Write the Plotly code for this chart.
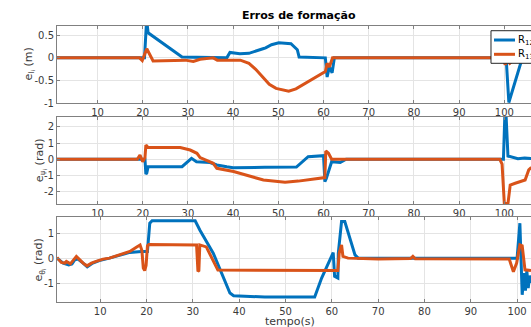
import plotly.graph_objects as go
from plotly.subplots import make_subplots

BLUE = "#0072BD"
ORANGE = "#D95319"

# ---- distance error e_l (m) ----
t12_l = [1, 20.4, 20.8, 21.0, 21.2, 24.6, 28.7, 38.6, 39.3, 41.5, 43.5, 46.6, 47.2, 48.5,
         50.1, 52.8, 54.2, 54.6, 60.4, 60.8, 61.3, 61.9, 62.4, 100.4, 101.0, 103.8, 106]
v12_l = [0, 0, 0.72, 0.72, 0.55, 0.31, 0.02, 0.0, 0.12, 0.09, 0.1, 0.2, 0.22, 0.29,
         0.33, 0.31, 0.18, 0.02, 0.0, -0.42, -0.2, -0.33, 0.0, 0.0, -0.98, -0.06, 0.5]
t13_l = [1, 19.3, 19.9, 20.9, 22.3, 29.4, 31.2, 32.7, 35.6, 36.5, 41.6, 43.5, 45.0, 46.8,
         48.0, 49.5, 52.3, 53.9, 56.0, 58.4, 60.4, 60.8, 61.3, 62.0, 99.6, 100.2, 100.6,
         101.2, 102.0, 106]
v13_l = [0, 0, -0.06, 0.2, -0.07, -0.05, -0.08, -0.03, 0.0, -0.05, -0.05, -0.12, -0.25, -0.45,
         -0.58, -0.67, -0.73, -0.68, -0.56, -0.42, -0.3, -0.12, -0.2, 0.0, 0.0, -0.15, -0.05,
         -0.12, -0.05, -0.05]

# ---- heading error e_psi (rad) ----
t12_p = [1, 19.8, 20.5, 20.7, 20.9, 21.2, 28.7, 30.8, 31.9, 34.9, 36.4, 38.6, 40.0, 47.0,
         54.0, 56.6, 60.0, 60.3, 60.6, 61.8, 63.7, 65.0, 99.8, 100.1, 100.4, 100.8, 102.0,
         103.0, 104.5, 106]
v12_p = [0, 0, 0, -0.92, -0.85, -0.46, -0.46, 0.06, -0.15, -0.2, -0.35, -0.46, -0.52, -0.5,
         -0.48, 0.16, 0.22, -1.38, -1.2, -0.15, -0.2, 0.0, 0.0, 2.62, 2.62, 0.2, 0.1,
         0.03, 0.07, 0.05]
t13_p = [1, 18.8, 19.4, 20.0, 20.5, 20.7, 21.2, 28.3, 30.5, 32.0, 32.7, 34.2, 35.6, 36.4,
         40.1, 46.7, 51.5, 54.4, 60.0, 60.3, 60.5, 61.1, 61.8, 99.0, 99.5, 100.0, 100.8,
         101.3, 102.4, 104.6, 105.4, 106]
v13_p = [0, 0, 0.26, -0.15, 0.1, 0.88, 0.72, 0.72, 0.57, 0.37, 0.1, -0.08, -0.25, -0.56,
         -0.76, -1.28, -1.42, -1.35, -1.13, -1.13, 0.51, 0.37, 0.0, 0.0, -0.3, -2.74, -2.74,
         -1.59, -1.48, -1.28, -0.66, -0.5]

# ---- pitch error e_theta (rad) ----
t12_t = [0.67, 2.0, 3.2, 3.9, 4.5, 5.2, 6.3, 7.2, 8.4, 9.8, 12.0, 14.2, 16.4, 18.9, 20.2,
         20.7, 21.2, 30.5, 31.5, 34.4, 38.0, 38.8, 45.5, 56.3, 57.8, 60.3, 60.6, 61.3, 61.4,
         62.1, 62.8, 65.0, 65.7, 99.4, 100.0, 100.6, 101.1, 101.5, 101.8, 102.1, 102.4,
         102.7, 103.0]
v12_t = [0, -0.2, -0.27, -0.23, -0.07, -0.04, -0.2, -0.35, -0.2, -0.1, 0.0, 0.13, 0.23, 0.27,
         0.27, 1.4, 1.5, 1.5, 1.13, 0.2, -1.4, -1.51, -1.56, -1.56, -0.8, 0.22, -0.73, -0.8,
         0.2, 1.47, 1.47, 0.13, 0.0, 0.0, 0.0, 1.4, -1.47, -0.6, -1.3, -0.5, -1.2, -0.7, -1.0]
t13_t = [0.67, 1.6, 2.35, 2.7, 3.56, 4.3, 4.85, 5.6, 6.3, 7.15, 8.1, 9.1, 10.6, 12.0, 13.5,
         14.9, 16.4, 17.8, 18.6, 19.0, 19.3, 19.6, 19.9, 20.2, 20.5, 30.8, 31.1, 31.3, 31.5,
         32.9, 35.4, 61.3, 61.6, 62.1, 62.4, 63.5, 70.0, 77.0, 77.5, 78.0, 98.3, 99.2, 99.9,
         100.6, 101.1, 101.7, 103.0]
v13_t = [0.03, -0.17, -0.2, -0.13, -0.23, -0.07, 0.07, -0.07, -0.2, -0.31, -0.2, -0.13, -0.04,
         0.0, 0.09, 0.17, 0.27, 0.44, 0.53, 0.3, -0.4, -0.5, -0.3, 0.5, 0.55, 0.53, -0.53,
         -0.5, 0.53, 0.45, -0.48, -0.5, 0.2, 0.53, 0.07, 0.0, -0.04, -0.02, 0.07, -0.03, -0.04,
         -0.55, -0.2, 0.53, 0.49, -0.47, -0.5]

x_ticks = [10, 20, 30, 40, 50, 60, 70, 80, 90, 100]
y1_ticks = [-1, -0.5, 0, 0.5]
y1_text = ["-1", "-0.5", "0", "0.5"]
y2_ticks = [-2, -1, 0, 1, 2]
y2_text = ["-2", "-1", "0", "1", "2"]
y3_ticks = [-1, 0, 1]
y3_text = ["-1", "0", "1"]

legend_names = ["R<sub>12</sub>", "R<sub>13</sub>"]
legend_colors = [BLUE, ORANGE]

series = [
    (1, t12_l, v12_l, t13_l, v13_l),
    (2, t12_p, v12_p, t13_p, v13_p),
    (3, t12_t, v12_t, t13_t, v13_t),
]

fig = make_subplots(rows=3, cols=1)
for row, ta, va, tb, vb in series:
    fig.add_trace(go.Scatter(x=ta, y=va, mode="lines", name=legend_names[0],
                             line=dict(color=BLUE, width=3), showlegend=False),
                  row=row, col=1)
    fig.add_trace(go.Scatter(x=tb, y=vb, mode="lines", name=legend_names[1],
                             line=dict(color=ORANGE, width=3), showlegend=False),
                  row=row, col=1)

TXT = "#3a3a3a"
AX = "#808080"
GRID = "#e4e4e4"
FONT = "DejaVu Sans"

xcommon = dict(tickvals=x_ticks, ticks="inside", ticklen=3, tickcolor=AX,
               showline=True, linecolor=AX, linewidth=1, mirror="ticks",
               showgrid=True, gridcolor=GRID, zeroline=False,
               tickfont=dict(family=FONT, size=10, color=TXT))
ycommon = dict(ticks="inside", ticklen=3, tickcolor=AX,
               showline=True, linecolor=AX, linewidth=1, mirror=False,
               showgrid=True, gridcolor=GRID, zeroline=False,
               tickfont=dict(family=FONT, size=10, color=TXT))

fig.update_layout(
    xaxis=dict(xcommon, range=[1.04, 105.9], domain=[0, 1]),
    xaxis2=dict(xcommon, range=[1.04, 105.9], domain=[0, 1]),
    xaxis3=dict(xcommon, range=[0.67, 103.0], domain=[0, 1]),
    yaxis=dict(ycommon, range=[-1, 0.71], tickvals=y1_ticks, ticktext=y1_text,
               domain=[0.717, 0.998]),
    yaxis2=dict(ycommon, range=[-2.76, 2.63], tickvals=y2_ticks, ticktext=y2_text,
                domain=[0.354, 0.669]),
    yaxis3=dict(ycommon, range=[-1.76, 1.64], tickvals=y3_ticks, ticktext=y3_text,
                domain=[0.0, 0.306]),
)

fig.update_layout(
    width=531, height=327,
    margin=dict(l=57, r=0, t=25, b=25),
    paper_bgcolor="white", plot_bgcolor="white",
    font=dict(family=FONT, size=10, color=TXT),
    title=dict(text="<b>Erros de formação</b>", x=0.5626, xref="container",
               xanchor="center", y=0.954, yref="container", yanchor="middle",
               font=dict(family=FONT, size=11, color="#000000")),
    showlegend=False,
)

# legend box in the top-right corner of the first panel (runs off the right edge)
fig.add_shape(type="rect", xref="paper", yref="paper", x0=0.9156, x1=1.08,
              y0=0.8617, y1=0.9794, fillcolor="white",
              line=dict(color="#262626", width=1), layer="above")
for i, (name, col) in enumerate(zip(legend_names, legend_colors)):
    yy = 0.9458 - i * 0.0516
    fig.add_shape(type="line", xref="paper", yref="paper", x0=0.9219, x1=0.9662,
                  y0=yy, y1=yy, line=dict(color=col, width=3), layer="above")
    fig.add_annotation(text=name, x=0.9684, y=yy, xref="paper", yref="paper",
                       xanchor="left", yanchor="middle", showarrow=False,
                       font=dict(family=FONT, size=10, color="#000000"))

ylabels = [
    ("e<sub>l<sub>i</sub></sub> (m)", -0.059, 0.8575),
    ("e<sub>ψ<sub>i</sub></sub> (rad)", -0.036, 0.5115),
    ("e<sub>θ<sub>i</sub></sub> (rad)", -0.036, 0.153),
]
for text, x, y in ylabels:
    fig.add_annotation(text=text, x=x, y=y, xref="paper", yref="paper",
                       xanchor="center", yanchor="middle", textangle=-90,
                       showarrow=False, font=dict(family=FONT, size=11, color=TXT))

fig.add_annotation(text="tempo(s)", x=0.4916, y=-0.072, xref="paper", yref="paper",
                   xanchor="center", yanchor="middle", showarrow=False,
                   font=dict(family=FONT, size=11, color=TXT))

fig.write_html("out.html")
